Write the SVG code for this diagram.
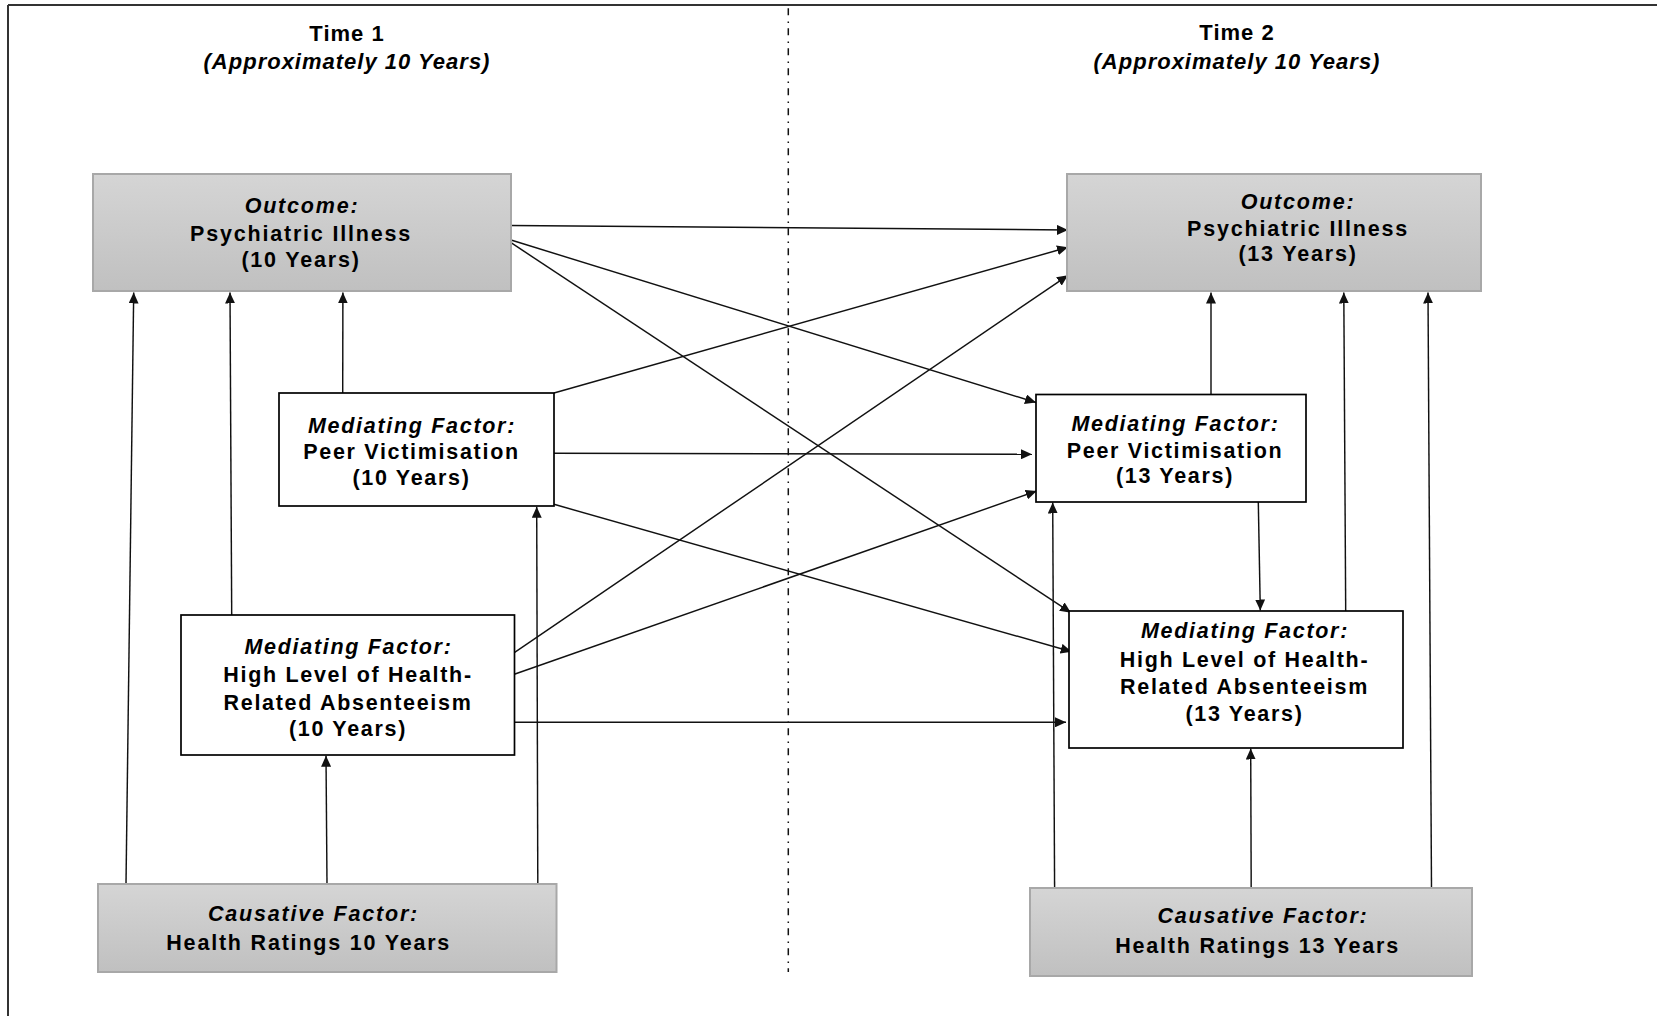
<svg xmlns="http://www.w3.org/2000/svg" width="1657" height="1016" viewBox="0 0 1657 1016">
  <style>
    .txt { font-family: "Liberation Sans", Arial, sans-serif; font-weight: bold; font-size: 21.5px; fill: #000; text-anchor: middle; letter-spacing: 1.7px; }
    .gtxt { letter-spacing: 1.8px; }
    .it { font-style: italic; }
    .title { font-size: 22px; letter-spacing: 1px; }
    .grey { fill: url(#greyFill); stroke: #a8a8a8; stroke-width: 2; }
    .white { fill: #fff; stroke: #000; stroke-width: 1.7; }
    .edge { fill: none; stroke: #111; stroke-width: 1.45; marker-end: url(#arrow); }
  </style>
  <defs>
    <linearGradient id="greyFill" x1="0" y1="0" x2="0" y2="1">
      <stop offset="0" stop-color="#d5d5d5"/>
      <stop offset="1" stop-color="#c0c0c0"/>
    </linearGradient>
    <marker id="arrow" markerUnits="userSpaceOnUse" markerWidth="11" markerHeight="10" refX="11" refY="5" orient="auto">
      <path d="M0,0 L11,5 L0,10 z" fill="#111"/>
    </marker>
  </defs>

  <rect width="1657" height="1016" fill="#fff"/>

  <!-- frame and time divider -->
  <g id="frame">
    <line x1="8" y1="5" x2="1657" y2="5" stroke="#333" stroke-width="2"/>
    <line x1="8" y1="5" x2="8" y2="1016" stroke="#333" stroke-width="2"/>
    <line x1="788.3" y1="8.3" x2="788.3" y2="972" stroke="#111" stroke-width="1.5" stroke-dasharray="7 6.3 1.5 5.2"/>
  </g>

  <!-- period headings -->
  <g id="heading-time1">
    <text class="txt title" x="347" y="41">Time 1</text>
    <text class="txt title it" x="347" y="69">(Approximately 10 Years)</text>
  </g>
  <g id="heading-time2">
    <text class="txt title" x="1237" y="40">Time 2</text>
    <text class="txt title it" x="1237" y="68.5">(Approximately 10 Years)</text>
  </g>

  <!-- connectors -->
  <g id="connectors">
    <line class="edge" x1="511" y1="225.5" x2="1068" y2="230"/>
    <line class="edge" x1="511" y1="240" x2="1036" y2="402.5"/>
    <line class="edge" x1="511" y1="242.7" x2="1071" y2="612.7"/>
    <line class="edge" x1="342.7" y1="393" x2="342.9" y2="292.5"/>
    <line class="edge" x1="554" y1="393" x2="1068" y2="247.3"/>
    <line class="edge" x1="554" y1="453.3" x2="1032" y2="454.3"/>
    <line class="edge" x1="554" y1="504.3" x2="1071.7" y2="651.7"/>
    <line class="edge" x1="231.7" y1="615" x2="230" y2="292.5"/>
    <line class="edge" x1="514.3" y1="652.7" x2="1068" y2="275.3"/>
    <line class="edge" x1="514.3" y1="674.3" x2="1036.7" y2="491"/>
    <line class="edge" x1="512.3" y1="722.3" x2="1066" y2="722.3"/>
    <line class="edge" x1="126" y1="884" x2="133.7" y2="292.5"/>
    <line class="edge" x1="327" y1="884" x2="326" y2="755.7"/>
    <line class="edge" x1="537.8" y1="884" x2="536.7" y2="506.8"/>
    <line class="edge" x1="1211" y1="394.5" x2="1211" y2="292.5"/>
    <line class="edge" x1="1258.3" y1="502" x2="1260.3" y2="610.5"/>
    <line class="edge" x1="1345.7" y1="611" x2="1343.8" y2="292.5"/>
    <line class="edge" x1="1054.6" y1="888" x2="1052.7" y2="502.5"/>
    <line class="edge" x1="1251.2" y1="888" x2="1250.7" y2="748.5"/>
    <line class="edge" x1="1431.5" y1="888" x2="1428" y2="292.5"/>
  </g>

  <!-- Time 1 nodes -->
  <g id="outcome-10">
    <rect class="grey" x="93" y="174" width="418" height="117"/>
    <text class="txt gtxt it" x="302" y="213">Outcome:</text>
    <text class="txt gtxt" x="301" y="240.5">Psychiatric Illness</text>
    <text class="txt gtxt" x="301" y="266.5">(10 Years)</text>
  </g>
  <g id="peer-victimisation-10">
    <rect class="white" x="279" y="393" width="275" height="113"/>
    <text class="txt it" x="412" y="432.7">Mediating Factor:</text>
    <text class="txt" x="411.5" y="459.3">Peer Victimisation</text>
    <text class="txt" x="411.5" y="485">(10 Years)</text>
  </g>
  <g id="absenteeism-10">
    <rect class="white" x="181" y="615" width="333.5" height="140"/>
    <text class="txt it" x="348.5" y="654">Mediating Factor:</text>
    <text class="txt" x="348" y="682.3">High Level of Health-</text>
    <text class="txt" x="348" y="710">Related Absenteeism</text>
    <text class="txt" x="348" y="735.7">(10 Years)</text>
  </g>
  <g id="causative-10">
    <rect class="grey" x="98" y="884" width="458.5" height="88"/>
    <text class="txt gtxt it" x="313.5" y="921">Causative Factor:</text>
    <text class="txt gtxt" x="308.7" y="950">Health Ratings 10 Years</text>
  </g>

  <!-- Time 2 nodes -->
  <g id="outcome-13">
    <rect class="grey" x="1067" y="174" width="414" height="117"/>
    <text class="txt gtxt it" x="1298" y="208.5">Outcome:</text>
    <text class="txt gtxt" x="1298" y="236">Psychiatric Illness</text>
    <text class="txt gtxt" x="1298" y="260.5">(13 Years)</text>
  </g>
  <g id="peer-victimisation-13">
    <rect class="white" x="1036" y="394.5" width="270" height="107.5"/>
    <text class="txt it" x="1175.5" y="430.7">Mediating Factor:</text>
    <text class="txt" x="1175" y="457.7">Peer Victimisation</text>
    <text class="txt" x="1175" y="483.3">(13 Years)</text>
  </g>
  <g id="absenteeism-13">
    <rect class="white" x="1069" y="611" width="334" height="137"/>
    <text class="txt it" x="1245" y="637.7">Mediating Factor:</text>
    <text class="txt" x="1244.5" y="666.7">High Level of Health-</text>
    <text class="txt" x="1244.5" y="694">Related Absenteeism</text>
    <text class="txt" x="1244.5" y="720.7">(13 Years)</text>
  </g>
  <g id="causative-13">
    <rect class="grey" x="1030" y="888" width="442" height="88"/>
    <text class="txt gtxt it" x="1263" y="923.3">Causative Factor:</text>
    <text class="txt gtxt" x="1257.6" y="952.7">Health Ratings 13 Years</text>
  </g>
</svg>
